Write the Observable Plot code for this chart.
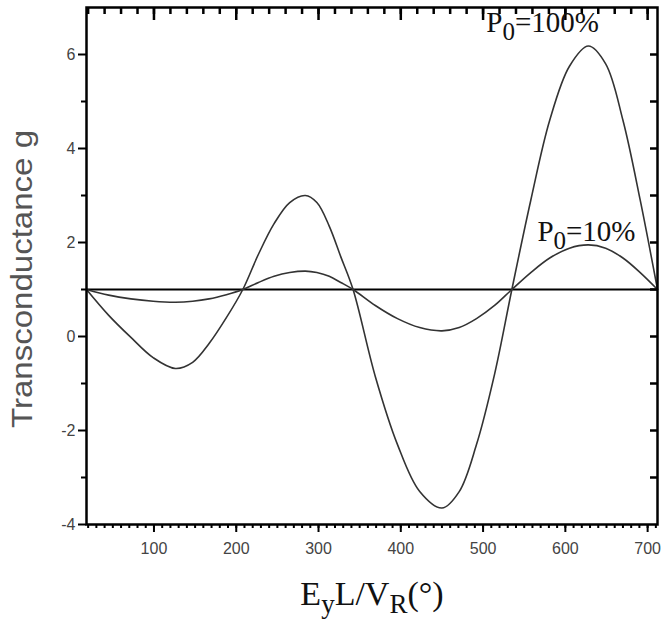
<!DOCTYPE html>
<html><head><meta charset="utf-8">
<script src="https://cdn.jsdelivr.net/npm/d3@7"></script>
<script src="https://cdn.jsdelivr.net/npm/@observablehq/plot@0.6"></script>
<style>body{margin:0;background:#fff}</style>
</head><body><div id="chart"></div>
<script>
// phase axis E_y L / V_R (degrees)
const phase = [18, 45, 72, 99, 126, 147, 167, 188, 208, 227, 246, 265, 284, 298, 313, 327, 342,
  369, 396, 423, 450, 471, 492, 514, 535, 558, 581, 605, 628, 649, 670, 691, 712];
// transconductance, P0 = 100%
const g100 = [1, 0.45, -0.02, -0.45, -0.68, -0.55, -0.15, 0.4, 1, 1.75, 2.4, 2.85, 3.0, 2.85, 2.35, 1.7, 1,
  -0.85, -2.3, -3.3, -3.65, -3.3, -2.3, -0.8, 1, 2.9, 4.6, 5.75, 6.18, 5.8, 4.6, 2.9, 1];
// transconductance, P0 = 10%
const g10 = [1, 0.88, 0.8, 0.75, 0.73, 0.75, 0.8, 0.89, 1, 1.15, 1.28, 1.36, 1.39, 1.36, 1.28, 1.15, 1,
  0.66, 0.38, 0.19, 0.12, 0.19, 0.38, 0.66, 1, 1.36, 1.67, 1.88, 1.95, 1.88, 1.67, 1.36, 1];
const refLevel = [1];

const xDomain = [18, 712];
const yDomain = [-4, 7];
const xMajor = [100, 200, 300, 400, 500, 600, 700];
const xMinor = d3.range(20, 711, 10);
const xTopMinor = d3.range(20, 711, 20);
const yMajor = [-4, -2, 0, 2, 4, 6];
const yMinor = [-3, -1, 1, 3, 5];
const yRight = [-3, -2, -1, 0, 1, 2, 3, 4, 5, 6];

const annX = [504, 566];
const annY = [6.68, 2.24];
const annText = ["P_0=100%", "P_0=10%"];
const xLabel = "E_yL/V_R(°)";
const yLabel = "Transconductance g";

const rows100 = phase.map((x, i) => ({x, g: g100[i]}));
const rows10 = phase.map((x, i) => ({x, g: g10[i]}));
const ann = annX.map((x, i) => ({x, y: annY[i], label: annText[i]}));

const W = 666, H = 620, ML = 86, MR = 9, MT = 7, MB = 96;
const frameW = W - ML - MR, frameH = H - MT - MB;
// convert inward tick lengths (px) into data units along each scale
const yPerPx = (yDomain[1] - yDomain[0]) / frameH;
const xPerPx = (xDomain[1] - xDomain[0]) / frameW;

const sans = "'Liberation Sans', Arial, sans-serif";
const serif = "'Liberation Serif', 'Times New Roman', serif";
const plain = d => String(d);
const none = () => "";

const plot = Plot.plot({
  width: W, height: H,
  marginLeft: ML, marginRight: MR, marginTop: MT, marginBottom: MB,
  x: {domain: xDomain},
  y: {domain: yDomain},
  style: {fontFamily: sans, background: "#fff"},
  marks: [
    Plot.ruleY(refLevel, {stroke: "#000", strokeWidth: 2}),
    Plot.line(rows100, {x: "x", y: "g", curve: "catmull-rom", stroke: "#333", strokeWidth: 1.6}),
    Plot.line(rows10, {x: "x", y: "g", curve: "catmull-rom", stroke: "#333", strokeWidth: 1.6}),
    Plot.frame({stroke: "#000", strokeWidth: 2.5}),
    // inward ticks on the top and right edges
    Plot.ruleX(xMajor, {x: d => d, y1: yDomain[1], y2: yDomain[1] - 13 * yPerPx, stroke: "#000", strokeWidth: 2.5}),
    Plot.ruleX(xTopMinor, {x: d => d, y1: yDomain[1], y2: yDomain[1] - 7 * yPerPx, stroke: "#000", strokeWidth: 2.5}),
    Plot.ruleY(yRight, {y: d => d, x1: xDomain[1], x2: xDomain[1] - 7 * xPerPx, stroke: "#000", strokeWidth: 2.5}),
    Plot.axisY(yMajor, {anchor: "left", tickSize: 8, tickPadding: 3, tickFormat: plain, fontSize: 16, fill: "#444", strokeWidth: 2, label: null}),
    Plot.axisY(yMinor, {anchor: "left", tickSize: 5, tickFormat: none, strokeWidth: 2, label: null}),
    Plot.axisX(xMajor, {anchor: "bottom", tickSize: 8, tickPadding: 10, tickFormat: plain, fontSize: 16, fill: "#444", strokeWidth: 2, label: null}),
    Plot.axisX(xMinor, {anchor: "bottom", tickSize: 4, tickFormat: none, strokeWidth: 2, label: null}),
    Plot.text([yLabel], {frameAnchor: "left", textAnchor: "middle", rotate: -90, dx: -64, dy: 13, fontSize: 30, fill: "#555", fontFamily: sans}),
    Plot.text([xLabel], {frameAnchor: "bottom", textAnchor: "middle", lineAnchor: "middle", dy: 70, fontSize: 34, fill: "#111", fontFamily: serif}),
    Plot.text(ann, {x: "x", y: "y", text: "label", textAnchor: "start", fontSize: 29, fill: "#111", fontFamily: serif})
  ]
});
document.getElementById("chart").append(plot);

function subscriptify(el, markup, subSize, shift) {
  const segs = [];
  let buf = "";
  for (let i = 0; i < markup.length; i++) {
    if (markup[i] === "_" && i + 1 < markup.length) {
      if (buf) segs.push({t: buf, s: false});
      buf = "";
      segs.push({t: markup[i + 1], s: true});
      i++;
    } else buf += markup[i];
  }
  if (buf) segs.push({t: buf, s: false});
  el.textContent = "";
  let down = false;
  for (const seg of segs) {
    const ts = document.createElementNS("http://www.w3.org/2000/svg", "tspan");
    ts.textContent = seg.t;
    if (seg.s && !down) { ts.setAttribute("dy", shift); down = true; }
    else if (!seg.s && down) { ts.setAttribute("dy", -shift); down = false; }
    if (seg.s) ts.setAttribute("font-size", subSize);
    el.appendChild(ts);
  }
}
d3.select(plot).selectAll("text").each(function() {
  const t = this.textContent;
  if (t === xLabel) {
    subscriptify(this, t, "27", 8);
  } else if (annText.includes(t)) {
    subscriptify(this, t, "25", 8);
  } else if (t === yLabel) {
    this.setAttribute("textLength", 298);
    this.setAttribute("lengthAdjust", "spacingAndGlyphs");
  }
});
</script>
</body></html>
